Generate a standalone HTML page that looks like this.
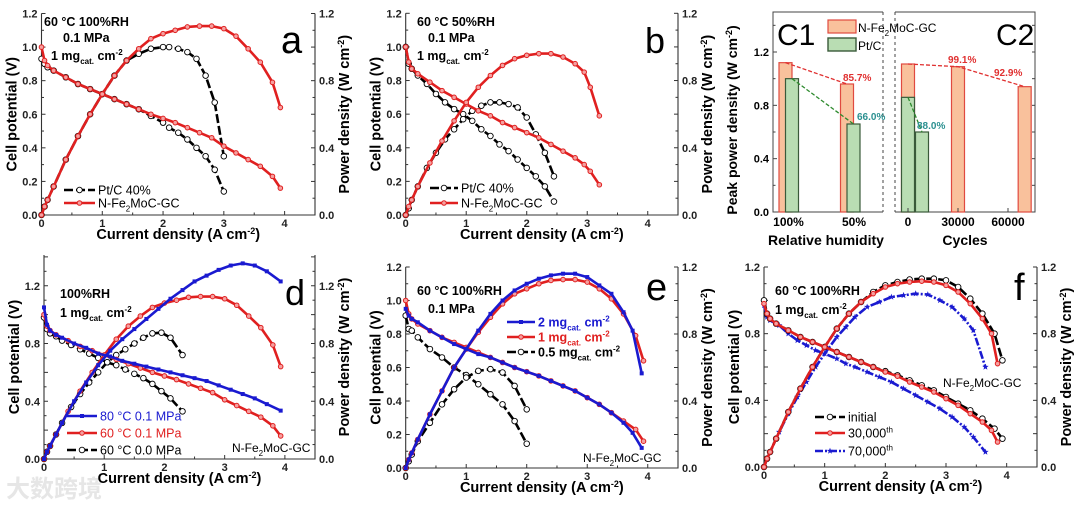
<!DOCTYPE html>
<html><head><meta charset="utf-8"><style>
html,body{margin:0;padding:0;background:#fff}
svg{display:block}
text{font-family:"Liberation Sans","Noto Sans CJK SC",sans-serif}
</style></head><body>
<svg id="fig" width="1080" height="506" viewBox="0 0 1080 506" xmlns="http://www.w3.org/2000/svg">
<text x="6" y="497" font-size="24" fill="#e6e6e6" font-weight="bold">大数跨境</text>
</svg>
<script>
// ---------- Panel a data ----------
const aJ_fe=[0,0.05,0.1,0.2,0.4,0.6,0.8,1.0,1.2,1.4,1.6,1.8,2.0,2.2,2.4,2.6,2.8,3.0,3.2,3.4,3.6,3.8,3.93];
const aV_fe=[1.0,0.92,0.89,0.86,0.82,0.78,0.75,0.72,0.69,0.66,0.63,0.6,0.575,0.55,0.52,0.49,0.46,0.41,0.37,0.33,0.29,0.23,0.16];
const aP_fe=[0,0.05,0.09,0.17,0.33,0.47,0.6,0.72,0.83,0.92,0.99,1.05,1.08,1.1,1.12,1.125,1.125,1.11,1.065,0.99,0.91,0.79,0.64];
const aJ_pt=[0,0.05,0.1,0.2,0.4,0.6,0.8,1.0,1.2,1.4,1.6,1.8,2.0,2.1,2.25,2.4,2.55,2.7,2.85,3.0];
const aV_pt=[0.93,0.9,0.88,0.86,0.82,0.78,0.75,0.72,0.69,0.66,0.63,0.59,0.55,0.52,0.49,0.45,0.4,0.35,0.27,0.14];
const aP_pt=[0,0.05,0.09,0.17,0.33,0.47,0.6,0.72,0.83,0.92,0.96,0.99,1.0,1.0,0.99,0.97,0.93,0.83,0.67,0.35];
// ---------- Panel b data ----------
const bJ_fe=[0,0.05,0.1,0.2,0.4,0.6,0.8,1.0,1.2,1.4,1.6,1.8,2.0,2.2,2.4,2.6,2.8,2.95,3.05,3.2];
const bV_fe=[1.0,0.91,0.87,0.84,0.79,0.74,0.7,0.66,0.62,0.59,0.55,0.52,0.49,0.46,0.42,0.38,0.34,0.3,0.26,0.18];
const bP_fe=[0,0.05,0.09,0.17,0.31,0.44,0.56,0.67,0.76,0.83,0.89,0.93,0.95,0.96,0.96,0.94,0.9,0.85,0.76,0.59];
const bJ_pt=[0,0.05,0.1,0.2,0.35,0.5,0.65,0.8,0.95,1.1,1.25,1.4,1.55,1.7,1.85,2.0,2.15,2.3,2.45];
const bV_pt=[1.0,0.9,0.87,0.83,0.78,0.72,0.67,0.63,0.6,0.56,0.51,0.47,0.42,0.38,0.33,0.28,0.23,0.17,0.08];
const bP_pt=[0,0.04,0.09,0.17,0.28,0.37,0.45,0.51,0.57,0.62,0.65,0.67,0.67,0.66,0.64,0.58,0.48,0.37,0.23];
// ---------- Panel c data ----------
const c1Cats=["100%","50%"];
const c1Fe=[1.12,0.96];
const c1Pt=[1.00,0.66];
const c1Labels=["85.7%","66.0%"];
const c2Cycles=[0,30000,70000];
const c2Fe=[1.11,1.09,0.94];
const c2PtCycles=[0,6000];
const c2Pt=[0.86,0.60];
const c2Labels=["99.1%","92.9%","88.0%"];
const cTicks=[0,0.4,0.8,1.2];
const c2Ticks=[0,30000,60000];
// ---------- Panel d data ----------
const dJ_80=[0,0.05,0.1,0.2,0.3,0.5,0.7,0.9,1.1,1.3,1.5,1.7,1.9,2.1,2.3,2.5,2.7,2.9,3.1,3.3,3.5,3.7,3.93];
const dV_80=[1.05,0.93,0.89,0.86,0.84,0.8,0.77,0.73,0.71,0.68,0.66,0.64,0.62,0.6,0.58,0.56,0.54,0.51,0.48,0.45,0.42,0.38,0.335];
const dP_80=[0,0.05,0.09,0.17,0.25,0.4,0.53,0.65,0.75,0.83,0.9,0.97,1.04,1.11,1.17,1.23,1.27,1.31,1.34,1.355,1.34,1.3,1.23];
const dJ_60=[0,0.05,0.1,0.2,0.4,0.6,0.8,1.0,1.2,1.4,1.6,1.8,2.0,2.2,2.4,2.6,2.8,3.0,3.2,3.4,3.6,3.8,3.93];
const dV_60=[1.0,0.92,0.89,0.86,0.82,0.78,0.75,0.72,0.69,0.66,0.63,0.6,0.575,0.55,0.52,0.49,0.46,0.41,0.37,0.33,0.29,0.23,0.16];
const dP_60=[0,0.05,0.09,0.17,0.33,0.47,0.6,0.72,0.83,0.92,0.99,1.05,1.08,1.1,1.12,1.125,1.125,1.11,1.065,0.99,0.91,0.79,0.64];
const dJ_00=[0,0.05,0.1,0.2,0.3,0.45,0.6,0.75,0.9,1.05,1.2,1.35,1.5,1.65,1.8,1.95,2.1,2.3];
const dV_00=[0.98,0.9,0.87,0.85,0.82,0.79,0.76,0.73,0.7,0.67,0.65,0.62,0.59,0.56,0.52,0.47,0.42,0.33];
const dP_00=[0,0.05,0.09,0.17,0.25,0.36,0.45,0.53,0.6,0.67,0.72,0.76,0.8,0.84,0.87,0.875,0.84,0.72];
// ---------- Panel e data ----------
const eJ_2=[0,0.05,0.1,0.2,0.4,0.6,0.8,1.0,1.2,1.4,1.6,1.8,2.0,2.2,2.4,2.6,2.8,3.0,3.2,3.4,3.6,3.75,3.9];
const eV_2=[0.95,0.91,0.89,0.87,0.82,0.78,0.74,0.71,0.68,0.66,0.63,0.6,0.575,0.55,0.52,0.49,0.46,0.42,0.38,0.33,0.27,0.21,0.12];
const eP_2=[0,0.05,0.09,0.17,0.32,0.46,0.6,0.71,0.82,0.92,1.0,1.06,1.1,1.13,1.15,1.16,1.16,1.14,1.09,1.04,0.93,0.82,0.565];
const eJ_1=[0,0.05,0.1,0.2,0.4,0.6,0.8,1.0,1.2,1.4,1.6,1.8,2.0,2.2,2.4,2.6,2.8,3.0,3.2,3.4,3.6,3.8,3.93];
const eV_1=[1.0,0.92,0.89,0.86,0.82,0.78,0.75,0.72,0.69,0.66,0.63,0.6,0.575,0.55,0.52,0.49,0.46,0.42,0.38,0.33,0.28,0.23,0.16];
const eP_1=[0,0.05,0.09,0.17,0.32,0.46,0.6,0.71,0.81,0.9,0.98,1.04,1.07,1.1,1.12,1.125,1.125,1.11,1.07,1.01,0.92,0.79,0.64];
const eJ_05=[0,0.05,0.1,0.2,0.4,0.6,0.8,1.0,1.2,1.4,1.6,1.8,2.0];
const eV_05=[0.91,0.83,0.82,0.78,0.71,0.66,0.6,0.555,0.5,0.44,0.38,0.28,0.145];
const eP_05=[0,0.04,0.08,0.16,0.27,0.38,0.47,0.54,0.58,0.59,0.57,0.49,0.35];
// ---------- Panel f data ----------
const fJ_0=[0,0.05,0.1,0.2,0.4,0.6,0.8,1.0,1.2,1.4,1.6,1.8,2.0,2.2,2.4,2.6,2.8,3.0,3.2,3.4,3.6,3.8,3.93];
const fV_0=[1.0,0.92,0.89,0.86,0.82,0.78,0.75,0.72,0.69,0.66,0.63,0.6,0.575,0.55,0.52,0.49,0.46,0.42,0.38,0.34,0.29,0.23,0.17];
const fP_0=[0,0.05,0.09,0.17,0.33,0.47,0.6,0.72,0.83,0.92,0.99,1.05,1.09,1.11,1.125,1.13,1.13,1.12,1.08,1.01,0.92,0.8,0.64];
const fJ_3=[0,0.05,0.1,0.2,0.4,0.6,0.8,1.0,1.2,1.4,1.6,1.8,2.0,2.2,2.4,2.6,2.8,3.0,3.2,3.4,3.6,3.75,3.85];
const fV_3=[0.98,0.92,0.89,0.86,0.82,0.78,0.75,0.72,0.69,0.66,0.63,0.6,0.57,0.545,0.51,0.48,0.45,0.41,0.37,0.32,0.27,0.22,0.15];
const fP_3=[0,0.05,0.09,0.17,0.33,0.47,0.6,0.72,0.83,0.92,0.99,1.04,1.08,1.1,1.11,1.115,1.11,1.09,1.05,0.98,0.89,0.8,0.62];
const fJ_7=[0,0.05,0.1,0.25,0.4,0.55,0.7,0.85,1.0,1.2,1.35,1.5,1.7,1.9,2.1,2.3,2.5,2.7,2.9,3.1,3.3,3.45,3.65];
const fV_7=[0.97,0.9,0.88,0.85,0.8,0.76,0.73,0.7,0.68,0.65,0.62,0.6,0.57,0.54,0.51,0.47,0.43,0.39,0.35,0.3,0.24,0.18,0.09];
const fP_7=[0,0.05,0.09,0.21,0.32,0.42,0.51,0.6,0.68,0.78,0.84,0.9,0.96,0.99,1.02,1.03,1.04,1.035,1.0,0.96,0.89,0.82,0.6];
const xTicks=[0,1,2,3,4];

const NS="http://www.w3.org/2000/svg";
const svg=document.getElementById('fig');
function el(tag,attrs,parent){const e=document.createElementNS(NS,tag);for(const k in attrs)e.setAttribute(k,attrs[k]);(parent||svg).appendChild(e);return e;}
function rich(parts,attrs,name,parent){
  const t=el('text',attrs,parent);
  
  
  let cur=0;
  parts.forEach(p=>{const s=el('tspan',{},t);s.textContent=p[0];const sh=p[1]||0;
    if(sh!==cur){s.setAttribute('dy',(cur-sh));cur=sh;}
    if(sh!==0)s.setAttribute('font-size',p[2]||8);});
  return t;
}
function plain(str,attrs,name,parent){const t=el('text',attrs,parent);t.textContent=str;
  
  return t;}
const SUB=-4,SUP=5;
const mgParts=[["1 mg"],["cat.",SUB,8],[" cm"],["-2",SUP,8]];
const fePartsN=[["N-Fe"],["2",SUB,8],["MoC-GC"]];

function marker(g,type,x,y,color){
  let m;
  if(type==='open'){m=el('circle',{cx:x,cy:y,r:2.8,fill:'#fff',stroke:'#000','stroke-width':0.9},g);}
  else if(type==='red'){m=el('circle',{cx:x,cy:y,r:2.3,fill:'#f5a0a0',stroke:color,'stroke-width':1},g);}
  else if(type==='sq'){m=el('rect',{x:x-2,y:y-2,width:4,height:4,fill:color},g);}
  else if(type==='star'){const pts=[];for(let i=0;i<10;i++){const r=i%2?1.4:3.4;const a=-Math.PI/2+i*Math.PI/5;pts.push((x+r*Math.cos(a)).toFixed(1)+','+(y+r*Math.sin(a)).toFixed(1));}
    m=el('polygon',{points:pts.join(' '),fill:color},g);}
  
  
}
function series(g,xs,ys,J,Y,s,name){
  const pts=J.map((j,i)=>xs(j).toFixed(1)+','+ys(Y[i]).toFixed(1)).join(' ');
  const pl=el('polyline',{points:pts,fill:'none',stroke:s.color,'stroke-width':s.w||2.6,'stroke-dasharray':s.dash||'none','stroke-linejoin':'round'},g);
  
  
  J.forEach((j,i)=>marker(g,s.marker,xs(j),ys(Y[i]),s.color));
}
function legendEntry(g,x1,x2,y,s,parts,tx,name,col,bold){
  const l=el('line',{x1:x1,y1:y,x2:x2,y2:y,stroke:s.color,'stroke-width':2.6,'stroke-dasharray':s.dash||'none'},g);
  
  
  marker(g,s.marker,(x1+x2)/2,y,s.color);
  rich(parts,{x:tx,y:y+4.5,'font-size':12.5,fill:col||'#000','font-weight':bold?'bold':'normal'},name+'-label',g);
}
function axes(g,p){
  const xs=v=>p.L+v/p.xmax*(p.R-p.L), ys=v=>p.B-v/p.ymax*(p.B-p.T);
  const ax=el('path',{d:`M${p.L},${p.T}V${p.B}H${p.R}V${p.T}`,fill:'none',stroke:'#333','stroke-width':1.1},g);
  
  
  for(let v=0;v<=p.xmax+1e-6;v+=0.5){const X=xs(v),len=(Math.abs(v-Math.round(v))<1e-6)?4:2.5;
    el('line',{x1:X,y1:p.B,x2:X,y2:p.B-len,stroke:'#333','stroke-width':1},g);}
  xTicks.forEach(v=>plain(String(v),{x:xs(v),y:p.B+12,'font-size':11,'font-weight':'bold','text-anchor':'middle',fill:'#222'},'x-tick-label',g));
  for(let v=0;v<=p.ymax+1e-6;v+=0.1){const Y=ys(v),maj=Math.abs(v/0.2-Math.round(v/0.2))<1e-6;const len=maj?4:2.5;
    el('line',{x1:p.L,y1:Y,x2:p.L+len,y2:Y,stroke:'#333','stroke-width':1},g);
    el('line',{x1:p.R,y1:Y,x2:p.R-len,y2:Y,stroke:'#333','stroke-width':1},g);}
  p.ly.forEach(v=>plain(v.toFixed(1),{x:p.L-4,y:ys(v)+4,'font-size':11,'font-weight':'bold','text-anchor':'end',fill:'#222'},'y-tick-label',g));
  p.ry.forEach(v=>plain(v.toFixed(1),{x:p.R+4,y:ys(v)+4,'font-size':11,'font-weight':'bold',fill:'#222'},'y2-tick-label',g));
  const cx=(p.L+p.R)/2, cy=(p.T+p.B)/2;
  rich([["Current density (A cm"],["-2",SUP,9],[")"]],{x:cx,y:p.B+24,'font-size':14.5,'font-weight':'bold','text-anchor':'middle'},'x-axis-title',g);
  rich([["Cell potential (V)"]],{x:0,y:0,'font-size':14.5,'font-weight':'bold','text-anchor':'middle',transform:`translate(${p.L-25},${cy}) rotate(-90)`},'y-axis-title',g);
  rich([["Power density (W cm"],["-2",SUP,9],[")"]],{x:0,y:0,'font-size':14.5,'font-weight':'bold','text-anchor':'middle',transform:`translate(${p.R+34},${cy}) rotate(-90)`},'y2-axis-title',g);
  return {xs,ys};
}
function panel(name,p){const g=el('g',{});const s=axes(g,p);return {g,...s};}

const RED={color:'#e02020',marker:'red'}, BLK={color:'#000',marker:'open',dash:'9,3'}, BLU={color:'#1a1ad0',marker:'sq'};
const BLUS={color:'#1a1ad0',marker:'star',dash:'8,2,2,2'};
const yL=[0,0.2,0.4,0.6,0.8,1.0,1.2], yR=[0,0.4,0.8,1.2];

// Panel a
(function(){const P=panel('panel-a',{L:41.5,R:315,T:13.5,B:215,xmax:4.5,ymax:1.2,ly:yL,ry:yR});
series(P.g,P.xs,P.ys,aJ_pt,aV_pt,BLK,'pt-polarization');series(P.g,P.xs,P.ys,aJ_pt,aP_pt,BLK,'pt-power');
series(P.g,P.xs,P.ys,aJ_fe,aV_fe,RED,'fe-polarization');series(P.g,P.xs,P.ys,aJ_fe,aP_fe,RED,'fe-power');
rich([["60 °C 100%RH"]],{x:44,y:26,'font-size':12.5,'font-weight':'bold'},'condition-label',P.g);
rich([["0.1 MPa"]],{x:63,y:42,'font-size':12.5,'font-weight':'bold'},'pressure-label',P.g);
rich(mgParts,{x:51,y:60,'font-size':12.5,'font-weight':'bold'},'loading-label',P.g);
plain('a',{x:281,y:53,'font-size':38},'panel-letter',P.g);
legendEntry(P.g,64,95,190,BLK,[["Pt/C 40%"]],98,'legend-pt');
legendEntry(P.g,64,95,203,RED,fePartsN,98,'legend-fe');})();

// Panel b
(function(){const P=panel('panel-b',{L:405.7,R:678,T:13.3,B:215,xmax:4.5,ymax:1.2,ly:yL,ry:yR});
series(P.g,P.xs,P.ys,bJ_pt,bV_pt,BLK,'pt-polarization');series(P.g,P.xs,P.ys,bJ_pt,bP_pt,BLK,'pt-power');
series(P.g,P.xs,P.ys,bJ_fe,bV_fe,RED,'fe-polarization');series(P.g,P.xs,P.ys,bJ_fe,bP_fe,RED,'fe-power');
rich([["60 °C 50%RH"]],{x:417,y:26,'font-size':12.5,'font-weight':'bold'},'condition-label',P.g);
rich([["0.1 MPa"]],{x:428,y:42,'font-size':12.5,'font-weight':'bold'},'pressure-label',P.g);
rich(mgParts,{x:417,y:60,'font-size':12.5,'font-weight':'bold'},'loading-label',P.g);
plain('b',{x:645,y:53,'font-size':36},'panel-letter',P.g);
legendEntry(P.g,430,458,188,BLK,[["Pt/C 40%"]],461,'legend-pt');
legendEntry(P.g,430,458,203,RED,fePartsN,461,'legend-fe');})();

// Panel c
(function(){const g=el('g',{});
const L1=773,R1=883,L2=895,R2=1035,T=12,B=212,ymax=1.5;
const ys=v=>B-v/ymax*(B-T);
const c1x=i=>788.5+i*61.5;
const c2x=v=>908+v/30000*50;
const f1=el('path',{d:`M${R1},${T}H${L1}V${B}H${R1}`,fill:'none',stroke:'#444','stroke-width':1},g);

const f2=el('path',{d:`M${L2},${T}H${R2}V${B}H${L2}`,fill:'none',stroke:'#444','stroke-width':1},g);

el('line',{x1:R1,y1:T,x2:R1,y2:B,stroke:'#444','stroke-dasharray':'3,3'},g);
el('line',{x1:L2,y1:T,x2:L2,y2:B,stroke:'#444','stroke-dasharray':'3,3'},g);
for(let v=0;v<=ymax+1e-6;v+=0.2){el('line',{x1:L1,y1:ys(v),x2:L1+(Math.abs(v/0.4-Math.round(v/0.4))<1e-6?4:2.5),y2:ys(v),stroke:'#444'},g);
  el('line',{x1:R2,y1:ys(v),x2:R2-3,y2:ys(v),stroke:'#444'},g);}
cTicks.forEach(v=>plain(v.toFixed(1),{x:L1-4,y:ys(v)+4,'font-size':11,'font-weight':'bold','text-anchor':'end'},'y-tick-label',g));
rich([["Peak power density (W cm"],["-2",SUP,9],[")"]],{x:0,y:0,'font-size':14,'font-weight':'bold','text-anchor':'middle',transform:`translate(${L1-36},${(T+B)/2+8}) rotate(-90)`},'y-axis-title',g);
const OR={fill:'#f9c19c',stroke:'#e04a40'}, GR={fill:'#b9ddb3',stroke:'#3a5a3a'};
function bar(cx,v,st,name){const r=el('rect',{x:cx-6.5,y:ys(v),width:13,height:B-ys(v),fill:st.fill,stroke:st.stroke,'stroke-width':1.2},g);
  }
c1Cats.forEach((c,i)=>{bar(c1x(i)-3,c1Fe[i],OR,'bar-fe-'+i);});
c1Cats.forEach((c,i)=>{bar(c1x(i)+3.5,c1Pt[i],GR,'bar-pt-'+i);
  plain(c,{x:c1x(i)+(i?4:0),y:B+14,'font-size':12,'font-weight':'bold','text-anchor':'middle'},'x-tick-label',g);});
el('polyline',{points:c1Fe.map((v,i)=>(c1x(i)-3)+','+ys(v)).join(' '),fill:'none',stroke:'#e03030','stroke-dasharray':'4,2','stroke-width':1.3},g);
el('polyline',{points:c1Pt.map((v,i)=>(c1x(i)+3.5)+','+ys(v)).join(' '),fill:'none',stroke:'#2d8a2d','stroke-dasharray':'4,2','stroke-width':1.3},g);
plain(c1Labels[0],{x:843,y:81,'font-size':10,'font-weight':'bold',fill:'#e03030'},'retention-label',g);
plain(c1Labels[1],{x:857,y:120,'font-size':10,'font-weight':'bold',fill:'#2a9090'},'retention-label',g);
c2Cycles.forEach((c,i)=>bar(c2x(c),c2Fe[i],OR,'bar-fe-cycle-'+i));
c2PtCycles.forEach((c,i)=>bar(c2x(c)+(i?4:0),c2Pt[i],GR,'bar-pt-cycle-'+i));
el('polyline',{points:c2Cycles.map((c,i)=>c2x(c)+','+ys(c2Fe[i])).join(' '),fill:'none',stroke:'#e03030','stroke-dasharray':'4,2','stroke-width':1.3},g);
el('polyline',{points:c2PtCycles.map((c,i)=>(c2x(c)+(i?4:0))+','+ys(c2Pt[i])).join(' '),fill:'none',stroke:'#2d8a2d','stroke-dasharray':'4,2','stroke-width':1.3},g);
plain(c2Labels[0],{x:948,y:63,'font-size':10,'font-weight':'bold',fill:'#e03030'},'retention-label',g);
plain(c2Labels[1],{x:994,y:76,'font-size':10,'font-weight':'bold',fill:'#e03030'},'retention-label',g);
plain(c2Labels[2],{x:917,y:129,'font-size':10,'font-weight':'bold',fill:'#2a9090'},'retention-label',g);
c2Ticks.forEach(v=>{plain(String(v),{x:c2x(v),y:B+14,'font-size':12,'font-weight':'bold','text-anchor':'middle'},'x-tick-label',g);
  el('line',{x1:c2x(v),y1:B,x2:c2x(v),y2:B-4,stroke:'#444'},g);});
plain('Relative humidity',{x:826,y:245,'font-size':14,'font-weight':'bold','text-anchor':'middle'},'x-axis-title',g);
plain('Cycles',{x:965,y:245,'font-size':14,'font-weight':'bold','text-anchor':'middle'},'x2-axis-title',g);
plain('C1',{x:777,y:45,'font-size':30},'panel-letter-c1',g);
plain('C2',{x:996,y:45,'font-size':30},'panel-letter-c2',g);
const lg1=el('rect',{x:828,y:20,width:28,height:13,fill:OR.fill,stroke:OR.stroke,'stroke-width':1.2},g);

rich(fePartsN,{x:858,y:32,'font-size':12},'legend-fe-label',g);
const lg2=el('rect',{x:828,y:38,width:28,height:13,fill:GR.fill,stroke:GR.stroke,'stroke-width':1.4},g);

plain('Pt/C',{x:858,y:50,'font-size':12},'legend-pt-label',g);})();

// Panel d
(function(){const P=panel('panel-d',{L:44,R:315,T:255,B:459,xmax:4.5,ymax:1.413,ly:[0,0.4,0.8,1.2],ry:yR});
series(P.g,P.xs,P.ys,dJ_00,dV_00,BLK,'p00-polarization');series(P.g,P.xs,P.ys,dJ_00,dP_00,BLK,'p00-power');
series(P.g,P.xs,P.ys,dJ_60,dV_60,RED,'t60-polarization');series(P.g,P.xs,P.ys,dJ_60,dP_60,RED,'t60-power');
series(P.g,P.xs,P.ys,dJ_80,dV_80,BLU,'t80-polarization');series(P.g,P.xs,P.ys,dJ_80,dP_80,BLU,'t80-power');
rich([["100%RH"]],{x:60,y:298,'font-size':12.5,'font-weight':'bold'},'condition-label',P.g);
rich(mgParts,{x:60,y:317,'font-size':12.5,'font-weight':'bold'},'loading-label',P.g);
plain('d',{x:285,y:305,'font-size':36},'panel-letter',P.g);
legendEntry(P.g,67,97,416,BLU,[["80 °C 0.1 MPa"]],100,'legend-80c','#1a1ad0');
legendEntry(P.g,67,97,433,RED,[["60 °C 0.1 MPa"]],100,'legend-60c','#e02020');
legendEntry(P.g,67,97,450,BLK,[["60 °C 0.0 MPa"]],100,'legend-60c-0mpa','#000');
rich(fePartsN,{x:232,y:452,'font-size':12},'catalyst-label',P.g);})();

// Panel e
(function(){const P=panel('panel-e',{L:405.7,R:678,T:267,B:468,xmax:4.5,ymax:1.2,ly:yL,ry:yR});
series(P.g,P.xs,P.ys,eJ_05,eV_05,BLK,'l05-polarization');series(P.g,P.xs,P.ys,eJ_05,eP_05,BLK,'l05-power');
series(P.g,P.xs,P.ys,eJ_1,eV_1,RED,'l1-polarization');series(P.g,P.xs,P.ys,eJ_1,eP_1,RED,'l1-power');
series(P.g,P.xs,P.ys,eJ_2,eV_2,BLU,'l2-polarization');series(P.g,P.xs,P.ys,eJ_2,eP_2,BLU,'l2-power');
rich([["60 °C 100%RH"]],{x:417,y:295,'font-size':12.5,'font-weight':'bold'},'condition-label',P.g);
rich([["0.1 MPa"]],{x:428,y:313,'font-size':12.5,'font-weight':'bold'},'pressure-label',P.g);
plain('e',{x:646,y:300,'font-size':38},'panel-letter',P.g);
legendEntry(P.g,507,535,322,BLU,[["2 mg"],["cat.",SUB,8],[" cm"],["-2",SUP,8]],538,'legend-2mg','#1a1ad0',true);
legendEntry(P.g,507,535,337,RED,[["1 mg"],["cat.",SUB,8],[" cm"],["-2",SUP,8]],538,'legend-1mg','#e02020',true);
legendEntry(P.g,507,535,352,BLK,[["0.5 mg"],["cat.",SUB,8],[" cm"],["-2",SUP,8]],538,'legend-05mg','#000',true);
rich(fePartsN,{x:583,y:462,'font-size':12},'catalyst-label',P.g);})();

// Panel f
(function(){const P=panel('panel-f',{L:764,R:1037,T:267,B:467,xmax:4.5,ymax:1.2,ly:[0,0.4,0.8,1.2],ry:yR});
series(P.g,P.xs,P.ys,fJ_7,fV_7,BLUS,'c70k-polarization');series(P.g,P.xs,P.ys,fJ_7,fP_7,BLUS,'c70k-power');
series(P.g,P.xs,P.ys,fJ_0,fV_0,BLK,'initial-polarization');series(P.g,P.xs,P.ys,fJ_0,fP_0,BLK,'initial-power');
series(P.g,P.xs,P.ys,fJ_3,fV_3,RED,'c30k-polarization');series(P.g,P.xs,P.ys,fJ_3,fP_3,RED,'c30k-power');
rich([["60 °C 100%RH"]],{x:775,y:295,'font-size':12.5,'font-weight':'bold'},'condition-label',P.g);
rich(mgParts,{x:775,y:314,'font-size':12.5,'font-weight':'bold'},'loading-label',P.g);
plain('f',{x:1014,y:300,'font-size':38},'panel-letter',P.g);
legendEntry(P.g,815,845,417,BLK,[["initial"]],848,'legend-initial');
legendEntry(P.g,815,845,433,RED,[["30,000"],["th",SUP,8]],848,'legend-30000');
legendEntry(P.g,815,845,451,BLUS,[["70,000"],["th",SUP,8]],848,'legend-70000');
rich(fePartsN,{x:943,y:387,'font-size':12},'catalyst-label',P.g);})();
</script>
</body></html>
